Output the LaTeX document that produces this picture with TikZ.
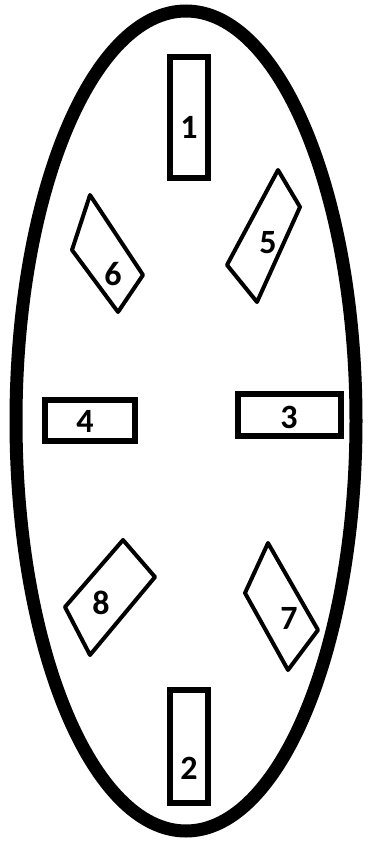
\documentclass[tikz,border=0pt]{standalone}
\usepackage{fontspec}
\setmainfont{Carlito}
\begin{document}
\begin{tikzpicture}[x=1pt,y=-1pt,
  box/.style={draw=black,line width=6pt},
  para/.style={draw=black,line width=4pt,line join=round},
  lbl/.style={font=\fontsize{34}{34}\selectfont\bfseries,text=black,inner sep=0pt}]
\useasboundingbox (0,0) rectangle (368,843);
\draw[line width=13pt] (186,421) ellipse [x radius=170, y radius=410];
% rectangles
\draw[box] (170,57) rectangle (208,178);
\draw[box] (170,690) rectangle (208,803);
\draw[box] (45,400) rectangle (135,441);
\draw[box] (238,394) rectangle (341,436);
\node[lbl] (n1) at (189,127) {1};
\node[lbl] (n2) at (189,768) {2};
\node[lbl] (n4) at (85,421) {4};
\node[lbl] (n3) at (289,417) {3};
% parallelograms
\draw[para] (90,195) -- (72,250) -- (118,312) -- (143,275) -- cycle;
\node[lbl] (n6) at (113,274) {6};
\draw[para] (278,170) -- (300,207) -- (257,302) -- (227,265) -- cycle;
\node[lbl] (n5) at (268,243) {5};
\draw[para] (123,540) -- (155,577) -- (90,655) -- (65,607) -- cycle;
\node[lbl] (n8) at (101,603) {8};
\draw[para] (268,543) -- (245,593) -- (288,670) -- (318,630) -- cycle;
\node[lbl] (n7) at (289,618) {7};
\end{tikzpicture}
\end{document}
